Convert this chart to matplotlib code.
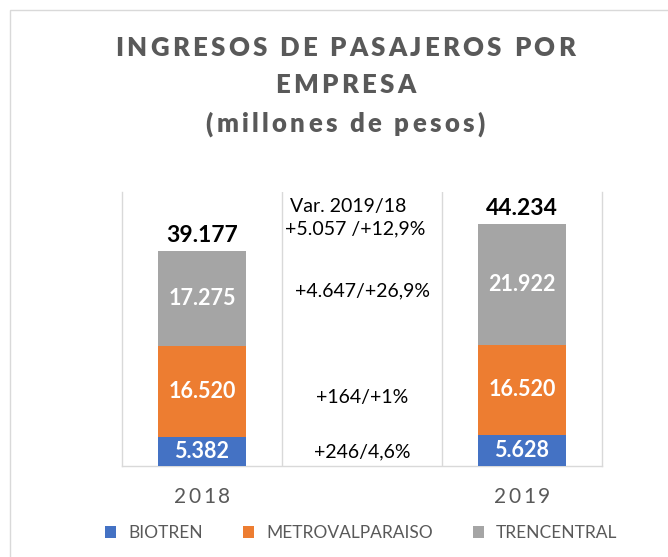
import matplotlib
matplotlib.use("Agg")
import matplotlib.pyplot as plt
from matplotlib.patches import Rectangle, Patch
import numpy as np

years = ["2018", "2019"]
series_names = ["BIOTREN", "METROVALPARAISO", "TRENCENTRAL"]
biotren = [5382, 5628]
metro = [16520, 16520]
trencentral = [17275, 21922]
totals = [39177, 44234]
value_labels = {
    "BIOTREN": ["5.382", "5.628"],
    "METROVALPARAISO": ["16.520", "16.520"],
    "TRENCENTRAL": ["17.275", "21.922"],
}
total_labels = ["39.177", "44.234"]
var_header = ["Var. 2019/18", "+5.057 /+12,9%"]
var_series = ["+246/4,6%", "+164/+1%", "+4.647/+26,9%"]

colors = ["#4472C4", "#ED7D31", "#A5A5A5"]
FONT = "Lato"

fig = plt.figure(figsize=(6.68, 5.57), dpi=100)
W, H = 668, 557

# outer chart border
fig.add_artist(Rectangle((10 / W, -0.1), 1.2, 1 - 10 / H + 0.1, transform=fig.transFigure,
                         fill=False, edgecolor="#D9D9D9", lw=1.0))

ax = fig.add_axes([122 / W, 1 - 466 / H, (602 - 122) / W, (466 - 192) / H])
xpos = [0, 2]
data = [biotren, metro, trencentral]
bottom = np.zeros(2)
for name, vals, c in zip(series_names, data, colors):
    ax.bar(xpos, vals, width=0.55, bottom=bottom, color=c, edgecolor="none", zorder=3)
    for i, (x, v) in enumerate(zip(xpos, vals)):
        ax.text(x, bottom[i] + v / 2, value_labels[name][i], ha="center", va="center",
                color="white", fontsize=15.5, fontweight="bold", family=FONT, zorder=4)
    bottom = bottom + np.array(vals)

for x, t, lab in zip(xpos, totals, total_labels):
    ax.text(x, t + 900, lab, ha="center", va="bottom", color="black",
            fontsize=16.5, fontweight="bold", family=FONT)

ax.set_xlim(-0.5, 2.5)
ax.set_ylim(0, 50000)
ax.set_xticks([])
ax.set_yticks([])
for s in ["top"]:
    ax.spines[s].set_visible(False)
for s in ["left", "right", "bottom"]:
    ax.spines[s].set_color("#D9D9D9")
    ax.spines[s].set_linewidth(1.0)
for gx in [0.5, 1.5]:
    ax.axvline(gx, color="#D9D9D9", lw=1.0, zorder=1)

# variation annotations in the middle column
mids = np.cumsum([0] + [d[0] for d in data])
offsets = [-200, -1200, 1500]
for k, txt in enumerate(var_series):
    ax.text(1, (mids[k] + mids[k + 1]) / 2 + offsets[k], txt,
            ha="center", va="center", fontsize=14, family=FONT, color="black")
ax.text(0.55, 47300, var_header[0], ha="left", va="center", fontsize=14, family=FONT)
ax.text(0.52, 43200, var_header[1], ha="left", va="center", fontsize=14, family=FONT)

renderer = fig.canvas.get_renderer()


def tracked(text, xc, yc, track, **kw):
    """Draw text centered at (xc, yc) in figure pixels with letter spacing."""
    arts = []
    widths = []
    for ch in text:
        t = fig.text(0, 0, ch if ch != " " else "\u00a0", **kw)
        bb = t.get_window_extent(renderer)
        if ch == " ":
            t.set_text("")
        widths.append(bb.width)
        arts.append(t)
    total = sum(widths) + track * (len(text) - 1)
    x = xc - total / 2
    for t, w in zip(arts, widths):
        t.set_position((x / W, 1 - yc / H))
        t.set_ha("left")
        t.set_va("center")
        x += w + track


for lab, xc in zip(years, [202, 522]):
    tracked(lab, xc, 497, 2.5, fontsize=15, family=FONT, color="#595959")

tracked("INGRESOS DE PASAJEROS POR", 345, 48, 3.3, fontsize=18.5, fontweight="heavy",
        family=FONT, color="#595959")
tracked("EMPRESA", 345, 85, 3.3, fontsize=18.5, fontweight="heavy", family=FONT, color="#595959")
tracked("(millones de pesos)", 345, 124, 3.3, fontsize=18.5, fontweight="heavy",
        family=FONT, color="#595959")

handles = [Patch(facecolor=c, edgecolor="none") for c in colors]
fig.legend(handles, series_names, loc="center", bbox_to_anchor=(361 / W, 1 - 533 / H),
           ncol=3, frameon=False, prop={"family": FONT, "size": 12.5},
           labelcolor="#595959", handlelength=0.65, handleheight=0.65,
           handletextpad=0.7, columnspacing=2.3)

fig.savefig("out.png", dpi=100)
